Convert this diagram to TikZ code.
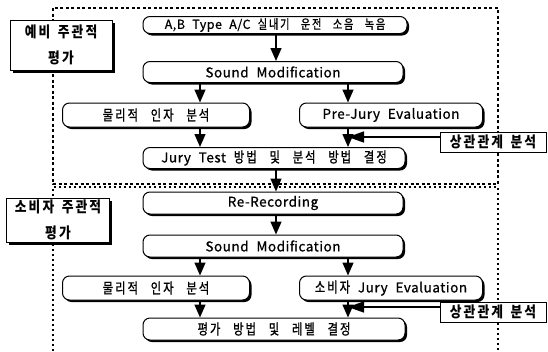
\documentclass[tikz,border=0pt]{standalone}
\usepackage{fontspec}
\setmainfont{Noto Sans CJK KR}[LetterSpace=4, WordSpace=2.2, FakeBold=0.8]
\newfontfamily\kr{Noto Sans CJK KR}[LetterSpace=14, WordSpace=2.8, FakeBold=1, FakeStretch=0.78]
\newfontfamily\krb{Noto Sans CJK KR}[LetterSpace=14, WordSpace=1.5, FakeStretch=0.85]
\usetikzlibrary{arrows.meta,shadows}
\tikzset{
  flow/.style={draw, line width=1pt, rounded corners=7pt, fill=white, inner sep=0pt,
    drop shadow={fill=black, opacity=1, shadow xshift=2pt, shadow yshift=-2pt},
    font=\fontsize{13.5}{15}\selectfont},
  krtext/.style={font=\fontsize{14.5}{15}\selectfont\kr},
  lab/.style={draw, line width=1pt, fill=white, align=center, inner sep=0pt,
    drop shadow={fill=black, opacity=1, shadow xshift=2.5pt, shadow yshift=-2.5pt},
    font=\fontsize{15}{26}\selectfont\krb\bfseries},
  corr/.style={draw, line width=1pt, fill=white, inner sep=0pt,
    font=\fontsize{15}{15}\selectfont\krb\bfseries},
  arr/.style={line width=1.5pt, -{Triangle[length=13pt,width=11pt]}},
  harr/.style={line width=1.5pt, -{Triangle[length=16pt,width=11pt]}}
}
\newcommand{\hg}[1]{{\kr\fontsize{14.5}{15}\selectfont #1}}
\begin{document}
\begin{tikzpicture}[x=1pt,y=-1pt]
\useasboundingbox (0,0) rectangle (548,351);
% dashed group frames
\draw[line width=1.5pt, dash pattern=on 3pt off 2.5pt] (53,8) rectangle (498,184);
\draw[line width=1.2pt, dash pattern=on 2pt off 3pt] (53,351) -- (53,187) -- (498,187) -- (498,351);
% column coordinates
\coordinate (xa) at (276,0);
\coordinate (xl) at (200,0);
\coordinate (xr) at (348,0);
% label boxes
\node[lab, minimum width=102pt, minimum height=50pt] (g1) at (61,45) {예비 주관적\\평가};
\node[lab, minimum width=103pt, minimum height=44pt] (g2) at (58,220) {소비자 주관적\\평가};
% upper flow
\node[flow, minimum width=264pt, minimum height=17pt, font=\fontsize{12.5}{14}\selectfont] (n1) at (275,25) {A,B Type A/C {\kr\fontsize{13}{14}\selectfont 실내기 운전 소음 녹음}};
\node[flow, minimum width=260pt, minimum height=21pt] (n2) at (273,72) {Sound Modification};
\node[flow, krtext, minimum width=187pt, minimum height=24pt] (n3) at (156,115) {물리적 인자 분석};
\node[flow, minimum width=183pt, minimum height=24pt] (n4) at (391,115) {Pre-Jury Evaluation};
\node[flow, minimum width=262pt, minimum height=21pt] (n5) at (274,158) {Jury Test \hg{방법 및 분석 방법 결정}};
\node[corr, minimum width=106pt, minimum height=20pt] (s1) at (493,142) {상관관계 분석};
% lower flow
\node[flow, minimum width=260pt, minimum height=22pt] (n6) at (273,203) {Re-Recording};
\node[flow, minimum width=260pt, minimum height=22pt] (n7) at (273,246) {Sound Modification};
\node[flow, krtext, minimum width=187pt, minimum height=24pt] (n8) at (156,288) {물리적 인자 분석};
\node[flow, minimum width=183pt, minimum height=24pt] (n9) at (391,288) {\hg{소비자} Jury Evaluation};
\node[flow, krtext, minimum width=262pt, minimum height=22pt] (n10) at (274,329) {평가 방법 및 레벨 결정};
\node[corr, minimum width=106pt, minimum height=20pt] (s2) at (493,312) {상관관계 분석};
% arrows upper
\draw[arr] (n1.south -| xa) -- (n2.north -| xa);
\draw[arr] (n2.south -| xl) -- (n3.north -| xl);
\draw[arr] (n2.south -| xr) -- (n4.north -| xr);
\draw[arr] (n3.south -| xl) -- (n5.north -| xl);
\draw[arr] (n4.south -| xr) -- (n5.north -| xr);
\draw[harr] ([yshift=5pt]s1.west) -- ([yshift=5pt]s1.west -| xr);
% arrows lower
\draw[arr] (n5.south -| xa) -- (n6.north -| xa);
\draw[arr] (n6.south -| xa) -- (n7.north -| xa);
\draw[arr] (n7.south -| xl) -- (n8.north -| xl);
\draw[arr] (n7.south -| xr) -- (n9.north -| xr);
\draw[arr] (n8.south -| xl) -- (n10.north -| xl);
\draw[arr] (n9.south -| xr) -- (n10.north -| xr);
\draw[harr] ([yshift=5pt]s2.west) -- ([yshift=5pt]s2.west -| xr);
\end{tikzpicture}
\end{document}
